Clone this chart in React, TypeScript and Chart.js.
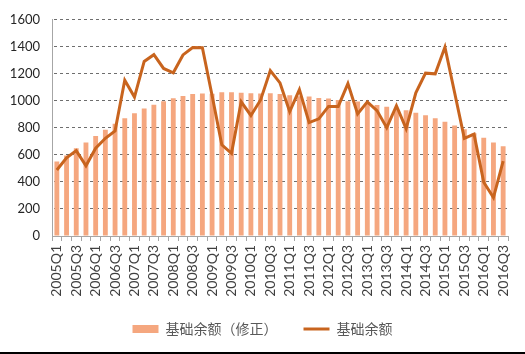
import React, { useEffect, useRef } from "react";
import { Chart, registerables } from "chart.js";

Chart.register(...registerables);

const categories = [
  "2005Q1", "2005Q2", "2005Q3", "2005Q4",
  "2006Q1", "2006Q2", "2006Q3", "2006Q4",
  "2007Q1", "2007Q2", "2007Q3", "2007Q4",
  "2008Q1", "2008Q2", "2008Q3", "2008Q4",
  "2009Q1", "2009Q2", "2009Q3", "2009Q4",
  "2010Q1", "2010Q2", "2010Q3", "2010Q4",
  "2011Q1", "2011Q2", "2011Q3", "2011Q4",
  "2012Q1", "2012Q2", "2012Q3", "2012Q4",
  "2013Q1", "2013Q2", "2013Q3", "2013Q4",
  "2014Q1", "2014Q2", "2014Q3", "2014Q4",
  "2015Q1", "2015Q2", "2015Q3", "2015Q4",
  "2016Q1", "2016Q2", "2016Q3",
];

// 基础余额（修正） - bars
const adjustedBalance = [
  552, 595, 650, 692, 740, 786, 831, 871,
  909, 944, 971, 998, 1020, 1037, 1050, 1055,
  1052, 1063, 1063, 1060, 1057, 1055, 1056, 1050,
  1041, 1035, 1032, 1022, 1017, 1006, 998, 995,
  977, 970, 957, 943, 930, 913, 894, 871,
  845, 818, 790, 760, 728, 692, 665,
];

// 基础余额 - line
const basicBalance = [
  488, 578, 632, 520, 650, 723, 778, 1152,
  1028, 1292, 1342, 1240, 1208, 1340, 1395, 1393,
  1040, 675, 612, 993, 892, 1007, 1224, 1133,
  920, 1084, 839, 867, 959, 959, 1128, 904,
  993, 928, 802, 964, 795, 1060, 1205, 1200,
  1398, 1060, 723, 754, 398, 284, 554,
];

const seriesNames = ["基础余额（修正）", "基础余额"];
const yMin = 0;
const yMax = 1600;
const yStep = 200;

function makeDashPattern(): any {
  const pc = document.createElement("canvas");
  pc.width = 6;
  pc.height = 2;
  const pctx = pc.getContext("2d");
  if (!pctx) return "#7F7F7F";
  pctx.fillStyle = "#6E6E6E";
  pctx.fillRect(0, 0, 3, 2);
  const pattern = pctx.createPattern(pc, "repeat");
  return pattern || "#7F7F7F";
}

export default function App() {
  const canvasRef = useRef<HTMLCanvasElement | null>(null);

  useEffect(() => {
    const canvas = canvasRef.current;
    if (!canvas) return;
    const gridPattern = makeDashPattern();
    const chart = new Chart(canvas, {
      type: "bar",
      data: {
        labels: categories,
        datasets: [
          {
            type: "bar",
            label: seriesNames[0],
            data: adjustedBalance,
            backgroundColor: "#F5A77F",
            borderWidth: 0,
            categoryPercentage: 1,
            barPercentage: 0.5,
            pointStyle: "rect",
            order: 1,
          } as any,
          {
            type: "line",
            label: seriesNames[1],
            data: basicBalance,
            borderColor: "#C8641E",
            backgroundColor: "#C8641E",
            borderWidth: 3,
            pointRadius: 0,
            tension: 0,
            pointStyle: "line",
            order: 0,
          } as any,
        ],
      },
      options: {
        animation: false,
        responsive: false,
        maintainAspectRatio: false,
        layout: { padding: { left: 0, right: 0, top: 18, bottom: 6 } },
        plugins: {
          tooltip: { enabled: false },
          legend: {
            position: "bottom",
            labels: {
              usePointStyle: true,
              pointStyleWidth: 26,
              boxWidth: 26,
              boxHeight: 8,
              padding: 26,
              color: "#595959",
              font: { family: "'Noto Sans CJK SC', sans-serif", size: 14 },
              sort: (a: any, b: any) => a.datasetIndex - b.datasetIndex,
            },
          },
        },
        scales: {
          x: {
            offset: true,
            grid: {
              offset: true,
              drawOnChartArea: false,
              drawTicks: true,
              tickLength: 5,
              color: "#A6A6A6",
            },
            border: { display: true, color: "#A6A6A6", width: 1 },
            ticks: {
              autoSkip: false,
              minRotation: 90,
              maxRotation: 90,
              padding: 4,
              color: "#404040",
              font: { family: "Lato, sans-serif", size: 14 },
              callback: (_v: any, i: number) => (i % 2 === 0 ? categories[i] : ""),
            },
            afterFit: (scale: any) => {
              scale.height = 60;
            },
          },
          y: {
            min: yMin,
            max: yMax,
            grid: {
              drawTicks: false,
              lineWidth: 1,
              color: gridPattern,
            },
            border: { display: true, color: "#A6A6A6", width: 1 },
            ticks: {
              stepSize: yStep,
              padding: 12,
              color: "#262626",
              font: { family: "Lato, sans-serif", size: 13 },
              callback: (v: any) => String(v),
            },
            afterFit: (scale: any) => {
              scale.width = 52;
            },
          },
          yPad: {
            position: "right",
            min: yMin,
            max: yMax,
            grid: { display: false },
            border: { display: false },
            ticks: { display: false },
            afterFit: (scale: any) => {
              scale.width = 17;
            },
          },
        },
      } as any,
    });
    return () => chart.destroy();
  }, []);

  return (
    <div style={{ position: "absolute", left: 0, top: 0, width: 525, height: 354, background: "#fff" }}>
      <canvas ref={canvasRef} width={525} height={352} style={{ display: "block" }} />
      <div style={{ position: "absolute", left: 0, top: 352, width: 525, height: 2, background: "#000" }} />
    </div>
  );
}
